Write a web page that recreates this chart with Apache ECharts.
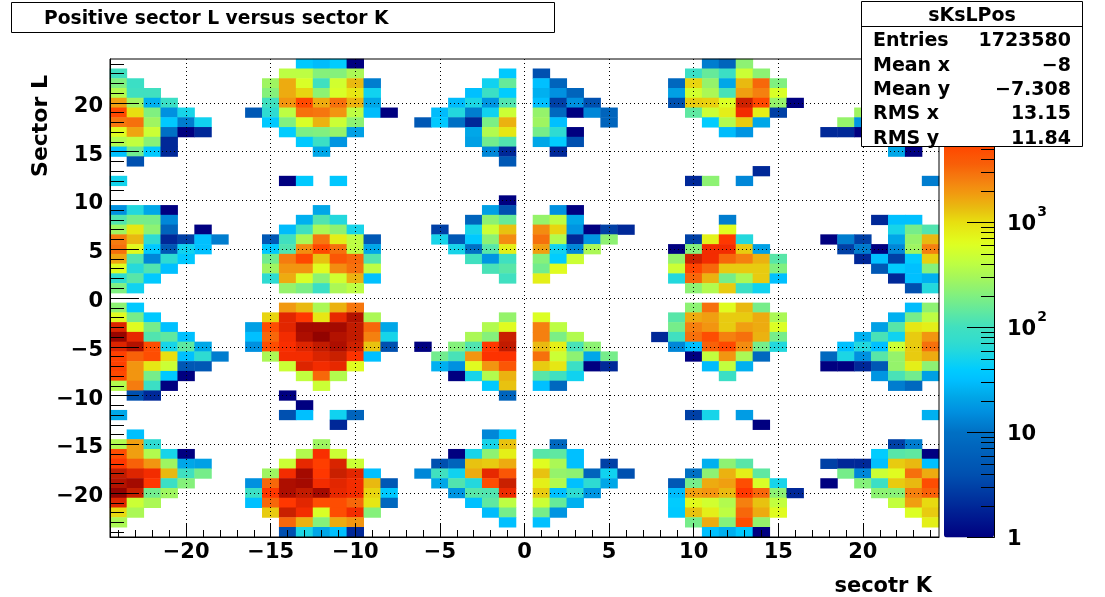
<!DOCTYPE html>
<html>
<head>
<meta charset="utf-8">
<style>html,body{margin:0;padding:0;background:#fff}#c{width:1105px;height:597px}</style>
<script src="https://cdn.jsdelivr.net/npm/echarts@6/dist/echarts.min.js"></script>
</head>
<body>
<div id="c"></div>
<script>
const binCentres = [];
for (let b = -24; b <= 24; b++) binCentres.push(String(b));

const titleText = 'Positive sector L versus sector K';
const statsName = 'sKsLPos';
const statsLabels = ['Entries', 'Mean x', 'Mean y', 'RMS x', 'RMS y'];
const statsValues = ['1723580', '\u22128', '\u22127.308', '13.15', '11.84'];
const xTitle = 'secotr K';
const yTitle = 'Sector L';
const paletteLogs = [0,.3,.6,1,1.2,1.35,1.5,1.6,1.72,1.85,2,2.15,2.3,2.45,2.62,2.8,3,3.12,3.25,3.4,3.55,3.72,3.85,3.95,4.1,4.25,4.38,4.557];
const paletteCols = ['#000080','#002898','#0050b0','#0070c4','#0090e0','#00a8e8','#00c0ff','#00ccff','#18d4e8','#30dcd0','#40e0c0','#60e8a0','#80f080','#a0f560','#c0ff40','#e0ff20','#e8e010','#e8c010','#f0a010','#f58010','#f86008','#ff4800','#ff3000','#e82800','#c82000','#b01000','#a00800','#880000'];
const zMaxCount = 36000;

// each row: sector L, then pairs of sector K, entries
const rowsUpper = [
[24, -13,38,-12,30,-11,40,-10,1, 11,12,12,7,13,230],
[23, -24,100, -14,400,-13,400,-12,210,-11,210,-10,320, -1,38, 1,4, 10,90,11,150,12,90,13,480,14,230],
[22, -24,200,-23,90, -15,280,-14,1600,-13,580,-12,100,-11,520,-10,1400,-9,12, -2,48,-1,150, 1,32,2,7, 9,8,10,1100,11,250,12,22,13,1400,14,3300,15,200],
[21, -24,350,-23,100,-22,100, -15,210,-14,1600,-13,1100,-12,230,-11,580,-10,900,-9,48, -3,32,-2,90,-1,40, 1,25,2,16,3,7, 9,20,10,520,11,320,12,110,13,1800,14,2500,15,580],
[20, -24,1800,-23,280,-22,25,-21,90, -15,100,-14,2000,-13,5200,-12,1600,-11,3000,-10,1500,-9,22, -4,30,-3,55,-2,17,-1,120, 1,32,2,3,3,16,4,4, 9,4,10,1200,11,1150,12,600,13,12000,14,5200,15,250,16,1],
[19, -24,5200,-23,1000,-22,200,-21,16,-20,52, -16,5,-15,70,-14,400,-13,3000,-12,2800,-11,2000,-10,400,-9,30,-8,1, -5,30,-4,60,-3,12,-2,48,-1,480, 1,250,2,8,3,1,4,14,5,7, 10,140,11,480,12,800,13,8000,14,800,15,3, 20,280],
[18, -24,2800,-23,3000,-22,280,-21,38,-20,12,-19,48, -15,38,-14,200,-13,580,-12,1500,-11,480,-10,230, -6,5,-5,38,-4,10,-3,2,-2,190,-1,1500, 1,280,2,32,5,7, 11,40,12,350,13,1200,14,22, 19,250,20,17],
[17, -24,650,-23,1700,-22,480,-21,10,-20,1,-19,2, -14,40,-13,190,-12,200,-11,250,-10,20, -3,22,-2,350,-1,900, 1,180,2,70,3,1, 12,30,13,17, 18,2,19,2,20,1],
[16, -24,350,-23,420,-22,220,-21,2, -13,38,-12,90,-11,17, -3,20,-2,170,-1,120, 1,22,2,40,3,4],
[15, -24,32,-23,170,-22,38,-21,2, -12,22, -2,14,-1,2, 2,2, 22,22,23,1],
[14, -23,4, -1,5],
[13, 14,2],
[12, -24,50, -14,1,-13,38,-11,36, 10,2,11,230,13,14, 24,12],
[10, -1,1],
[9, -24,16,-23,60,-22,22,-21,1, -12,22, -2,20,-1,4, 2,16,3,1],
[8, -24,120,-23,180,-22,180,-21,14, -13,25,-12,120,-11,60, -3,7,-2,230,-1,150, 1,250,2,400,3,22, 12,12, 21,2,22,32,23,32],
[7, -24,280,-23,900,-22,230,-21,7,-19,1, -14,30,-13,100,-12,320,-11,230,-10,52, -5,3,-3,52,-2,480,-1,1300, 1,2200,2,1100,3,17,4,1,5,3,6,2, 12,650, 22,52,23,180,24,120],
[6, -24,2600,-23,1400,-22,70,-21,2,-20,3,-19,32,-18,12, -15,5,-14,100,-13,320,-12,2800,-11,800,-10,400,-9,5, -5,52,-4,5,-3,38,-2,230,-1,2200, 1,3000,2,350,3,2,4,17,5,230, 10,3,11,750,12,6500,13,60, 18,1,19,12,20,3,22,22,23,250,24,1400],
[5, -24,3000,-23,680,-22,38,-21,5,-20,48,-19,32, -15,38,-14,120,-13,2200,-12,5200,-11,3000,-10,400,-9,22, -4,52,-3,10,-2,130,-1,800, 1,1800,2,48,3,14,4,320, 9,1,10,210,11,8000,12,8000,13,1200,14,20, 19,3,20,12,21,1,22,14,23,280,24,2500],
[4, -24,1700,-23,120,-22,14,-21,70,-20,38, -15,170,-14,2600,-13,5200,-12,1300,-11,4200,-10,3300,-9,120, -3,100,-2,17,-1,100, 1,210,2,40,3,480, 9,250,10,12000,11,8000,12,3300,13,2500,14,1500,15,130, 20,2,21,32,22,3,23,40,24,1150],
[3, -24,630,-23,62,-22,120,-21,32, -15,280,-14,2000,-13,2000,-12,650,-11,2200,-10,3000,-9,400, -2,110,-1,130, 1,170,2,650, 9,480,10,5500,11,3300,12,1200,13,1200,14,1200,15,200, 21,5,22,40,23,32,24,210],
[2, -24,70,-23,130,-22,38, -15,70,-14,1600,-13,580,-12,230,-11,520,-10,1500,-9,32, -1,100, 1,800, 9,60,10,3300,11,1500,12,180,13,320,14,1200,15,32, 22,2,23,32,24,25],
[1, -24,200,-23,48, -14,250,-13,190,-12,90,-11,320,-10,400, 10,230,11,350,12,1200,13,90,14,48, 23,4,24,60]
];
const rowsLower = [
[-1, -24,230,-23,38, -14,1900,-13,1400,-12,320,-11,1500,-10,2800, 10,230,11,3000,12,650,13,1400,14,180, 23,30,24,230],
[-2, -24,650,-23,180,-22,38, -15,1100,-14,9500,-13,6500,-12,900,-11,9000,-10,17000,-9,320, -1,250, 1,600, 9,130,10,1600,11,1800,12,1200,13,1200,14,1600,15,320, 22,25,23,180,24,400],
[-3, -24,10000,-23,650,-22,180,-21,32, -16,20,-15,4800,-14,9500,-13,22000,-12,22000,-11,22000,-10,14000,-9,3300,-8,22, -2,350,-1,650, 1,2500,2,400, 9,180,10,2500,11,2000,12,1200,13,1800,14,1600,15,600, 21,20,22,130,23,900,24,800],
[-4, -24,28000,-23,9000,-22,120,-21,140,-20,32, -16,32,-15,3300,-14,8000,-13,19000,-12,30000,-11,17000,-10,14000,-9,2500,-8,52, -3,320,-2,210,-1,12500, 1,2500,2,190,3,350, 8,2,9,100,10,3000,11,4800,12,2500,13,3000,14,1500,15,180, 20,25,21,110,22,48,23,1200,24,2000],
[-5, -24,10000,-23,17000,-22,4800,-21,52,-20,140,-19,22, -16,16,-15,4800,-14,7500,-13,10000,-12,14000,-11,19000,-10,12000,-9,1300,-8,4, -6,1,-4,210,-3,120,-2,6500,-1,14000, 1,1400,2,800,3,110,4,230, 9,14,10,32,11,3500,12,5200,13,2200,14,180,15,60, 19,32,20,60,21,32,22,480,23,1200,24,3000],
[-6, -24,5800,-23,3500,-22,4800,-21,1000,-20,32,-19,70,-18,12, -15,320,-14,8000,-13,8000,-12,10500,-11,12500,-10,7000,-9,32, -5,170,-4,110,-3,2000,-2,7000,-1,7000, 1,3000,2,480,3,230,4,22,5,180, 10,1,11,430,12,2000,13,320,14,8, 18,8,19,55,20,16,21,130,22,250,23,1200,24,1600],
[-7, -24,5800,-23,2000,-22,900,-21,480,-20,5,-19,5, -14,480,-13,10000,-12,8000,-11,9000,-10,650, -5,25,-4,16,-3,650,-2,2000,-1,4200, 1,1200,2,900,3,90,4,1,5,2, 11,30,12,430,13,25, 18,1,19,1,20,2,21,5,22,250,23,800,24,230],
[-8, -24,5200,-23,2000,-22,180,-21,38,-20,1, -13,420,-12,3300,-11,350, -4,1,-3,52,-2,350,-1,1500, 1,130,2,100,3,48, 12,90, 21,17,22,110,23,170,24,20],
[-9, -24,350,-23,2600,-22,90,-21,1, -12,480, -2,38,-1,1300, 1,32,2,8, 22,12,23,8],
[-10, -23,4,-22,2, -14,1, -1,7],
[-11, -13,1],
[-12, -24,22, -14,4,-13,32,-11,48,-10,7, 10,3,11,52,13,19, 24,25],
[-13, -11,2, 14,1],
[-14, -23,32, -2,14,-1,38],
[-15, -24,350,-23,1800,-22,70, -12,280, -2,52,-1,1300, 2,8, 22,3,23,12],
[-16, -24,4800,-23,1800,-22,350,-21,52,-20,1, -13,350,-12,7500,-11,480, -4,1,-3,52,-2,230,-1,800, 1,130,2,140,3,32, 21,40,22,130,23,140,24,1],
[-17, -24,6500,-23,3500,-22,2000,-21,280,-20,22,-19,20, -14,480,-13,9000,-12,6000,-11,10500,-10,480, -5,4,-4,7,-3,1300,-2,1200,-1,1600, 1,650,2,320,3,32,5,3, 11,25,12,230,13,130, 18,3,19,2,20,2,21,32,22,1200,23,1400,24,32],
[-18, -24,14000,-23,10000,-22,8000,-21,1400,-20,100,-19,180, -15,280,-14,8000,-13,22000,-12,6500,-11,12500,-10,9500,-9,32, -6,14,-5,100,-4,48,-3,1600,-2,9000,-1,4200, 1,1300,2,250,3,230,4,7,5,48,6,4, 10,10,11,230,12,1500,13,800,14,140, 19,180,20,14,21,480,22,650,23,3000,24,1600],
[-19, -24,17000,-23,22000,-22,6500,-21,90,-20,210, -16,16,-15,3300,-14,19000,-13,22000,-12,8000,-11,9500,-10,8000,-9,1400,-8,5, -5,22,-4,120,-3,60,-2,4800,-1,12500, 1,800,2,350,3,32,4,70,5,22, 9,5,10,180,11,1600,12,1800,13,4800,14,580,15,52, 18,1,20,210,21,90,22,1200,23,1400,24,4800],
[-20, -24,30000,-23,13000,-22,170,-21,280, -16,90,-15,6500,-14,19000,-13,14000,-12,22000,-11,9000,-10,8000,-9,1100,-8,38, -4,17,-3,130,-2,120,-1,8500, 1,1200,2,32,3,70,4,17, 9,30,10,1800,11,2000,12,1400,13,6500,14,3300,15,230,16,2, 21,230,22,220,23,2500,24,3500],
[-21, -24,10000,-23,480,-22,320, -16,32,-15,3300,-14,6500,-13,9500,-12,4800,-11,4800,-10,3300,-9,900,-8,8, -3,32,-2,140,-1,400, 1,480,2,150,3,25, 9,40,10,680,11,520,12,350,13,2500,14,1300,15,430, 22,430,23,1800,24,1050],
[-22, -24,1050,-23,320, -15,1200,-14,12500,-13,8000,-12,580,-11,4800,-10,8000,-9,210, -2,30,-1,180, 1,180,2,17, 9,38,10,1300,11,800,12,400,13,3300,14,1600,15,650, 23,600,24,1200],
[-23, -24,320, -14,3300,-13,1500,-12,210,-11,1600,-10,2000, -1,32, 1,32, 10,180,11,1600,12,210,13,4800,14,250, 24,800],
[-24, -14,4,-13,55,-12,22,-11,32,-10,2, 11,32,12,25,13,38,14,1]
];

const cells = [];
[...rowsUpper, ...rowsLower].forEach(r => {
  for (let i = 1; i < r.length; i += 2) {
    if (r[i + 1] > 0) cells.push([String(r[i]), String(r[0]), Math.log10(r[i + 1]), r[i + 1]]);
  }
});

// smooth palette, evenly spaced on the log scale for visualMap
const zMaxLog = Math.log10(zMaxCount);
function hex(c){return [1,3,5].map(i=>parseInt(c.substr(i,2),16));}
const colours = [];
for (let i = 0; i <= 100; i++) {
  const t = i / 100 * zMaxLog;
  let k = 0;
  while (k < paletteLogs.length - 2 && t > paletteLogs[k + 1]) k++;
  const f = Math.min(1, (t - paletteLogs[k]) / (paletteLogs[k + 1] - paletteLogs[k]));
  const a = hex(paletteCols[k]), b = hex(paletteCols[k + 1]);
  colours.push('rgb(' + a.map((v, j) => Math.round(v + (b[j] - v) * f)).join(',') + ')');
}

const isFive = (i, v) => Number(v) % 5 === 0;
const font = 'DejaVu Sans';
const minus = s => String(s).replace('-', '\u2212');

const barMajor = [0, 1, 2, 3, 4];
const barMinor = [];
for (let d = 0; d < 5; d++) for (let m = 2; m <= 9; m++) {
  const l = d + Math.log10(m);
  if (l < zMaxLog) barMinor.push(l);
}

const statsGraphics = [
  {type:'rect', z:100, shape:{x:861.5,y:1.5,width:221,height:145}, style:{fill:'#fff',stroke:'#000',lineWidth:1}},
  {type:'line', z:101, shape:{x1:861.5,y1:26.5,x2:1082.5,y2:26.5}, style:{stroke:'#000',lineWidth:1}},
  {type:'text', z:101, x:972, y:16, style:{text:statsName,font:'bold 19px "'+font+'"',fill:'#000',align:'center',verticalAlign:'middle'}}
];
statsLabels.forEach((t, i) => {
  const y = 41.5 + i * 24.3;
  statsGraphics.push({type:'text', z:101, x:873, y, style:{text:t,font:'bold 19px "'+font+'"',fill:'#000',align:'left',verticalAlign:'middle'}});
  statsGraphics.push({type:'text', z:101, x:1071, y, style:{text:statsValues[i],font:'bold 19px "'+font+'"',fill:'#000',align:'right',verticalAlign:'middle'}});
});

const chart = echarts.init(document.getElementById('c'), null, {renderer:'canvas'});
chart.setOption({
  animation:false,
  backgroundColor:'#fff',
  textStyle:{fontFamily:font},
  grid:[
    {left:110, top:59, width:829, height:478.5, show:true, z:10, backgroundColor:'transparent', borderColor:'#000', borderWidth:1, containLabel:false},
    {left:944, top:59, width:50, height:478.5, show:false}
  ],
  xAxis:[
    {type:'category', gridIndex:0, data:binCentres, position:'bottom', z:12, name:xTitle, nameLocation:'end', nameGap:0,
      nameTextStyle:{fontFamily:font,fontWeight:'bold',fontSize:21,color:'#000',align:'right',verticalAlign:'top',padding:[39,7,0,0]},
      axisLine:{show:true,onZero:false,lineStyle:{color:'#000',width:1}},
      axisTick:{show:true,inside:true,length:14,alignWithLabel:true,interval:isFive,lineStyle:{color:'#000',width:1}},
      axisLabel:{show:true,interval:isFive,margin:5,color:'#000',fontFamily:font,fontWeight:'bold',fontSize:21,formatter:minus,hideOverlap:false},
      splitLine:{show:true,interval:isFive,alignWithLabel:true,lineStyle:{color:'#000',type:[1,3],width:1}}
    },
    {type:'category', gridIndex:0, data:binCentres, position:'bottom', z:12,
      axisLine:{show:false,onZero:false},
      axisTick:{show:true,inside:true,length:7,alignWithLabel:true,interval:0,lineStyle:{color:'#000',width:1}},
      axisLabel:{show:false}, splitLine:{show:false}
    },
    {type:'value', gridIndex:1, show:false, min:0, max:1}
  ],
  yAxis:[
    {type:'category', gridIndex:0, data:binCentres, position:'left', z:12, name:yTitle, nameLocation:'end', nameGap:0, nameRotate:90,
      nameTextStyle:{fontFamily:font,fontWeight:'bold',fontSize:22,color:'#000',align:'right',verticalAlign:'bottom',padding:[0,16,58,0]},
      axisLine:{show:true,onZero:false,lineStyle:{color:'#000',width:1}},
      axisTick:{show:true,inside:true,length:28,alignWithLabel:true,interval:isFive,lineStyle:{color:'#000',width:1}},
      axisLabel:{show:true,interval:isFive,margin:7,color:'#000',fontFamily:font,fontWeight:'bold',fontSize:21,hideOverlap:false,
        formatter:v=>'{t|'+minus(v)+'}',
        rich:{t:{fontFamily:font,fontWeight:'bold',fontSize:21,color:'#000',padding:[7,0,0,0]}}},
      splitLine:{show:true,interval:isFive,alignWithLabel:true,lineStyle:{color:'#000',type:[1,3],width:1}}
    },
    {type:'category', gridIndex:0, data:binCentres, position:'left', z:12,
      axisLine:{show:false,onZero:false},
      axisTick:{show:true,inside:true,length:14,alignWithLabel:true,interval:0,lineStyle:{color:'#000',width:1}},
      axisLabel:{show:false}, splitLine:{show:false}
    },
    {type:'value', gridIndex:1, position:'right', min:0, max:zMaxLog, z:12,
      axisLine:{show:true,onZero:false,lineStyle:{color:'#000',width:1}},
      axisTick:{show:true,inside:true,length:27,customValues:barMajor,lineStyle:{color:'#000',width:1}},
      axisLabel:{show:true,margin:13,customValues:barMajor,color:'#000',fontFamily:font,fontWeight:'bold',fontSize:21,align:'left',padding:[4,0,0,0],
        formatter:v=>{const n=Math.round(v);return n===0?'1':n===1?'10':'10{s|'+n+'}';},
        rich:{s:{fontFamily:font,fontWeight:'bold',fontSize:14,color:'#000',verticalAlign:'top',padding:[0,0,24,1]}}},
      splitLine:{show:false}
    },
    {type:'value', gridIndex:1, position:'right', min:0, max:zMaxLog, z:12,
      axisLine:{show:false,onZero:false},
      axisTick:{show:true,inside:true,length:13,customValues:barMinor,lineStyle:{color:'#000',width:1}},
      axisLabel:{show:false}, splitLine:{show:false}
    }
  ],
  visualMap:{
    type:'continuous', min:0, max:zMaxLog, dimension:2, seriesIndex:0,
    left:944, top:59, itemWidth:50, itemHeight:478.5, padding:0, text:null,
    calculable:false, realtime:false, showLabel:false, hoverLink:false,
    inRange:{color:colours}, textStyle:{color:'transparent'}
  },
  series:[{
    type:'heatmap', xAxisIndex:0, yAxisIndex:0, data:cells, z:2, progressive:0,
    itemStyle:{borderWidth:0}, emphasis:{disabled:true}
  }],
  graphic:[
    {type:'rect', z:100, shape:{x:11.5,y:2.5,width:543,height:30}, style:{fill:'#fff',stroke:'#000',lineWidth:1}},
    {type:'text', z:101, x:44, y:19, style:{text:titleText,font:'bold 18.7px "'+font+'"',fill:'#000',align:'left',verticalAlign:'middle'}},
    ...statsGraphics
  ]
});
</script>
</body>
</html>
